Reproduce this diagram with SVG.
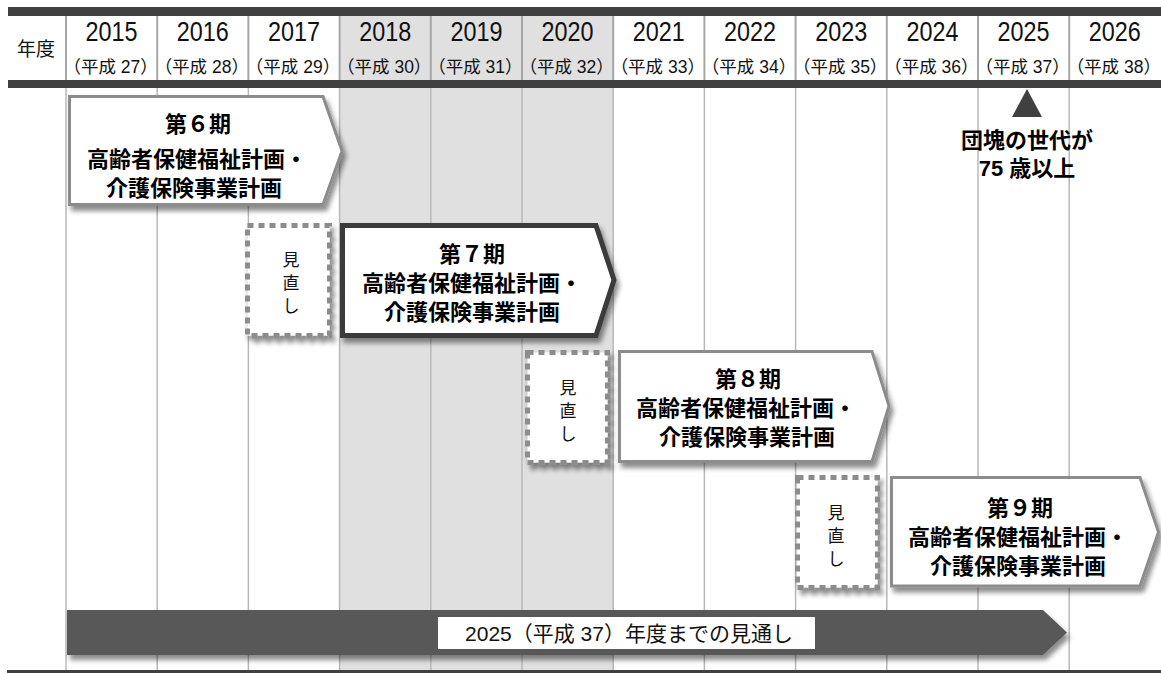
<svg xmlns="http://www.w3.org/2000/svg" width="1161" height="673" viewBox="0 0 1161 673">
<defs>
<filter id="sh" x="-10%" y="-10%" width="130%" height="140%">
<feDropShadow dx="3" dy="5" stdDeviation="2.5" flood-color="#000" flood-opacity="0.45"/>
</filter>
<style>
.bar{fill:#404040}
.shade{fill:#e0e0e0}
.hline{stroke:#a6a6a6;stroke-width:2}
.gline{stroke:#b8b8b8;stroke-width:1.5}
.yr{font-family:"Liberation Sans",sans-serif;font-size:28px;fill:#111;text-anchor:middle}
.hs{font-family:"Liberation Sans","Noto Sans CJK JP",sans-serif;font-size:17.5px;fill:#111;text-anchor:middle}
.plan{fill:#fff;stroke:#8c8c8c;stroke-width:3;filter:url(#sh)}
.plan7{fill:#fff;stroke:#3a3a3a;stroke-width:5;filter:url(#sh)}
.rev{fill:#fff;stroke:#8c8c8c;stroke-width:5;stroke-dasharray:6 5;filter:url(#sh)}
.pt{font-family:"Noto Sans CJK JP",sans-serif;font-weight:bold;font-size:22px;fill:#000;text-anchor:middle;dominant-baseline:central}
.rt{font-family:"Noto Sans CJK JP",sans-serif;font-size:17px;fill:#111;text-anchor:middle;dominant-baseline:central}
.lbl{font-family:"Liberation Sans","Noto Sans CJK JP",sans-serif;font-size:21px;fill:#111;text-anchor:middle;dominant-baseline:central}
.note{font-family:"Liberation Sans","Noto Sans CJK JP",sans-serif;font-weight:bold;font-size:22px;fill:#000;text-anchor:middle;dominant-baseline:central}
</style>
</defs>
<rect width="1161" height="673" fill="#fff"/>
<g id="grid">
<rect class="shade" x="339.6" y="16" width="273.6" height="64"/>
<rect class="shade" x="339.6" y="88" width="273.6" height="582"/>
<g class="hline">
<line x1="66" y1="16" x2="66" y2="80"/><line x1="157.2" y1="16" x2="157.2" y2="80"/><line x1="248.4" y1="16" x2="248.4" y2="80"/><line x1="339.6" y1="16" x2="339.6" y2="80"/><line x1="430.8" y1="16" x2="430.8" y2="80"/><line x1="522" y1="16" x2="522" y2="80"/><line x1="613.2" y1="16" x2="613.2" y2="80"/><line x1="704.4" y1="16" x2="704.4" y2="80"/><line x1="795.6" y1="16" x2="795.6" y2="80"/><line x1="886.8" y1="16" x2="886.8" y2="80"/><line x1="978" y1="16" x2="978" y2="80"/><line x1="1069.2" y1="16" x2="1069.2" y2="80"/>
</g>
<g class="gline">
<line x1="66" y1="88" x2="66" y2="670"/><line x1="157.2" y1="88" x2="157.2" y2="670"/><line x1="248.4" y1="88" x2="248.4" y2="670"/><line x1="339.6" y1="88" x2="339.6" y2="670"/><line x1="430.8" y1="88" x2="430.8" y2="670"/><line x1="522" y1="88" x2="522" y2="670"/><line x1="613.2" y1="88" x2="613.2" y2="670"/><line x1="704.4" y1="88" x2="704.4" y2="670"/><line x1="795.6" y1="88" x2="795.6" y2="670"/><line x1="886.8" y1="88" x2="886.8" y2="670"/><line x1="978" y1="88" x2="978" y2="670"/><line x1="1069.2" y1="88" x2="1069.2" y2="670"/>
</g>
<rect class="bar" x="8" y="7" width="1153" height="9"/>
<rect class="bar" x="8" y="80" width="1153" height="8"/>
<rect class="bar" x="7" y="670" width="1154" height="3"/>
</g>
<g id="header">
<text x="36" y="56" style="font-family:'Noto Sans CJK JP',sans-serif;font-size:19px;fill:#111;text-anchor:middle">年度</text>
<g class="yr">
<text x="111.6" y="40.5" textLength="52" lengthAdjust="spacingAndGlyphs">2015</text>
<text x="202.8" y="40.5" textLength="52" lengthAdjust="spacingAndGlyphs">2016</text>
<text x="294" y="40.5" textLength="52" lengthAdjust="spacingAndGlyphs">2017</text>
<text x="385.2" y="40.5" textLength="52" lengthAdjust="spacingAndGlyphs">2018</text>
<text x="476.4" y="40.5" textLength="52" lengthAdjust="spacingAndGlyphs">2019</text>
<text x="567.6" y="40.5" textLength="52" lengthAdjust="spacingAndGlyphs">2020</text>
<text x="658.8" y="40.5" textLength="52" lengthAdjust="spacingAndGlyphs">2021</text>
<text x="750" y="40.5" textLength="52" lengthAdjust="spacingAndGlyphs">2022</text>
<text x="841.2" y="40.5" textLength="52" lengthAdjust="spacingAndGlyphs">2023</text>
<text x="932.4" y="40.5" textLength="52" lengthAdjust="spacingAndGlyphs">2024</text>
<text x="1023.6" y="40.5" textLength="52" lengthAdjust="spacingAndGlyphs">2025</text>
<text x="1114.8" y="40.5" textLength="52" lengthAdjust="spacingAndGlyphs">2026</text>
</g>
<g class="hs">
<text x="110.6" y="73">（平成 27）</text>
<text x="201.8" y="73">（平成 28）</text>
<text x="293" y="73">（平成 29）</text>
<text x="384.2" y="73">（平成 30）</text>
<text x="475.4" y="73">（平成 31）</text>
<text x="566.6" y="73">（平成 32）</text>
<text x="657.8" y="73">（平成 33）</text>
<text x="749" y="73">（平成 34）</text>
<text x="840.2" y="73">（平成 35）</text>
<text x="931.4" y="73">（平成 36）</text>
<text x="1022.6" y="73">（平成 37）</text>
<text x="1113.8" y="73">（平成 38）</text>
</g>
</g>
<g id="connectors"></g>
<g id="plan6">
<path class="plan" d="M69.5,96.5 H323 L342,151 L323,204.5 H69.5 Z"/>
<text class="pt"><tspan x="198" y="122">第６期</tspan><tspan x="197" y="157">高齢者保健福祉計画・</tspan><tspan x="194" y="186">介護保険事業計画</tspan></text>
</g>
<g id="review1">
<rect class="rev" x="247.5" y="225.5" width="82" height="110"/>
<text class="rt"><tspan x="291" y="258">見</tspan><tspan x="291" y="281">直</tspan><tspan x="291" y="304">し</tspan></text>
</g>
<g id="plan7">
<path class="plan7" d="M342.5,225.5 H596 L614,280 L596,335.5 H342.5 Z"/>
<text class="pt"><tspan x="472" y="252">第７期</tspan><tspan x="472" y="281">高齢者保健福祉計画・</tspan><tspan x="472" y="310">介護保険事業計画</tspan></text>
</g>
<g id="review2">
<rect class="rev" x="527.5" y="352.5" width="80" height="110"/>
<text class="rt"><tspan x="568" y="386">見</tspan><tspan x="568" y="409">直</tspan><tspan x="568" y="432">し</tspan></text>
</g>
<g id="plan8">
<path class="plan" d="M619.5,351.5 H872 L889,406 L872,461.5 H619.5 Z"/>
<text class="pt"><tspan x="748" y="377">第８期</tspan><tspan x="746" y="406">高齢者保健福祉計画・</tspan><tspan x="747" y="435">介護保険事業計画</tspan></text>
</g>
<g id="review3">
<rect class="rev" x="797.5" y="477.5" width="80" height="110"/>
<text class="rt"><tspan x="836" y="511">見</tspan><tspan x="836" y="534">直</tspan><tspan x="836" y="557">し</tspan></text>
</g>
<g id="plan9">
<path class="plan" d="M891.5,477.5 H1140 L1158.5,532 L1140,586 H891.5 Z"/>
<text class="pt"><tspan x="1020" y="506">第９期</tspan><tspan x="1018" y="535">高齢者保健福祉計画・</tspan><tspan x="1018" y="564">介護保険事業計画</tspan></text>
</g>
<g id="outlook">
<path d="M67,610 H1043 L1067,632.5 L1043,655 H67 Z" fill="#595959" filter="url(#sh)"/>
<rect x="438" y="617" width="377" height="32" fill="#fff"/>
<text class="lbl" x="629" y="633">2025（平成 37）年度までの見通し</text>
</g>
<g id="note2025">
<path d="M1027,89 L1042,117 L1012,117 Z" fill="#404040"/>
<text class="note"><tspan x="1027" y="140">団塊の世代が</tspan><tspan x="1027" y="168">75 歳以上</tspan></text>
</g>
</svg>
